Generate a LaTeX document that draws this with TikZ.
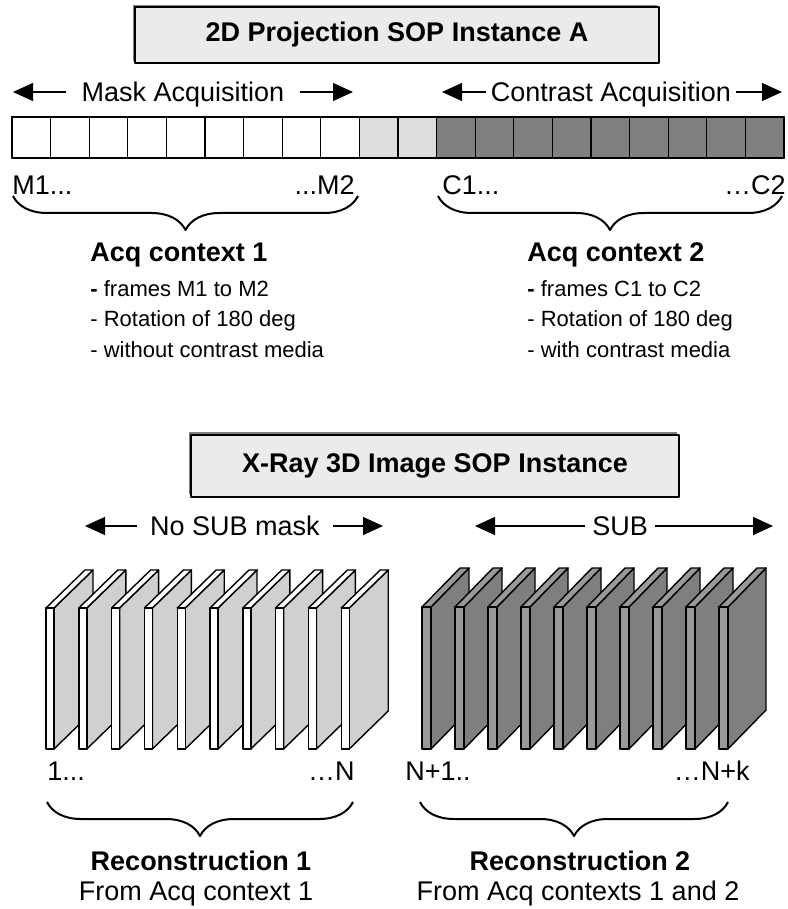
\documentclass[tikz,border=0pt]{standalone}
\usepackage{fontspec}
\setmainfont{Liberation Sans}
\usetikzlibrary{arrows.meta,decorations.pathreplacing,shadows,positioning}
\definecolor{boxgray}{HTML}{EBEBEB}
\definecolor{cellgray}{HTML}{DDDDDD}
\definecolor{celldark}{HTML}{808080}
\definecolor{slabside}{HTML}{D0D0D0}
\definecolor{subfront}{HTML}{999999}
\definecolor{subside}{HTML}{7F7F7F}
\tikzset{
  titlebox/.style={draw,line width=1pt,fill=boxgray,inner sep=0pt,
    font=\fontsize{13.5}{16}\selectfont\bfseries,
    drop shadow={shadow xshift=-1.1pt,shadow yshift=1.1pt,fill=gray,opacity=1}},
  rangelbl/.style={inner ysep=0pt,text height=9.7pt,text depth=0pt},
  rangearrow/.style={->,line width=0.6pt},
  cell/.style={draw,line width=0.6pt},
  slab/.style={draw,line width=0.7pt},
  brc/.style={decorate,decoration={brace,mirror,amplitude=17pt},line width=1pt},
  heading/.style={font=\fontsize{13.5}{16}\selectfont\bfseries,inner sep=0pt},
  bullet/.style={font=\fontsize{11}{13}\selectfont,inner sep=0pt,anchor=base west}
}
\begin{document}
\begin{tikzpicture}[x=0.5pt,y=-0.5pt,>={Triangle[length=10pt,width=9pt]},line join=round,font=\fontsize{13.5}{16}\selectfont]
\useasboundingbox (0,0) rectangle (787,909);
% 2D projection instance
\node[titlebox,minimum width=262pt,minimum height=28pt] (projtitle) at (397,35) {2D Projection SOP Instance A};
\node[rangelbl,inner xsep=7.5pt] (maskacq) at (183,92) {Mask Acquisition};
\coordinate (maskL) at (13,92);
\coordinate (maskR) at (353,92);
\draw[rangearrow] (maskacq.west) -- (maskL);
\draw[rangearrow] (maskacq.east) -- (maskR);
\node[rangelbl,inner xsep=2.5pt] (contacq) at (611,92) {Contrast Acquisition};
\coordinate (contL) at (442,92);
\coordinate (contR) at (782,92);
\draw[rangearrow] (contacq.west) -- (contL);
\draw[rangearrow] (contacq.east) -- (contR);
% frame strip
\foreach \i in {0,...,8}
  \draw[cell,fill=white] ({12+38.6*\i},117) rectangle +(38.6,41);
\foreach \i in {9,10}
  \draw[cell,fill=cellgray] ({12+38.6*\i},117) rectangle +(38.6,41);
\foreach \i in {11,...,19}
  \draw[cell,fill=celldark] ({12+38.6*\i},117) rectangle +(38.6,41);
\draw[line width=0.8pt] (12,117) rectangle (784,158);
\node[anchor=base west,inner sep=0pt] (m1) at (12,195) {M1...};
\node[anchor=base east,inner sep=0pt] (m2) at (355,195) {...M2};
\node[anchor=base west,inner sep=0pt] (c1) at (442,195) {C1...};
\node[anchor=base east,inner sep=0pt] (c2) at (786,195) {…C2};
\draw[brc] (13,196) -- (358,196);
\draw[brc] (438,196) -- (782,196);
% acquisition contexts
\node[heading,anchor=base west] (ctxa) at (90,262) {Acq context 1};
\foreach \t [count=\k] in {\textbf{-} frames M1 to M2,- Rotation of 180 deg,- without contrast media}
  \node[bullet] (ctxa-\k) at (90,265.5+30.5*\k) {\t};
\node[heading,anchor=base west] (ctxb) at (527,262) {Acq context 2};
\foreach \t [count=\k] in {\textbf{-} frames C1 to C2,- Rotation of 180 deg,- with contrast media}
  \node[bullet] (ctxb-\k) at (527,265.5+30.5*\k) {\t};
% 3D image instance
\node[titlebox,minimum width=244pt,minimum height=31pt] (imgtitle) at (435,465.5) {X-Ray 3D Image SOP Instance};
\node[rangelbl,inner xsep=6.5pt] (nosub) at (235,526) {No SUB mask};
\coordinate (nosubL) at (85,526);
\coordinate (nosubR) at (383,526);
\draw[rangearrow] (nosub.west) -- (nosubL);
\draw[rangearrow] (nosub.east) -- (nosubR);
\node[rangelbl,inner xsep=3.5pt] (sub) at (620,526) {SUB};
\coordinate (subL) at (475,526);
\coordinate (subR) at (773,526);
\draw[rangearrow] (sub.west) -- (subL);
\draw[rangearrow] (sub.east) -- (subR);
% reconstructed slices
\foreach \i in {0,...,9}{
  \pgfmathsetmacro\sx{46+32.8*\i}
  \draw[slab,fill=slabside] (\sx+8,608) -- ++(39,-38) -- ++(0,141) -- (\sx+8,749) -- cycle;
  \draw[slab,fill=white] (\sx,608) -- ++(39,-38) -- ++(8,0) -- (\sx+8,608) -- cycle;
  \draw[slab,fill=white] (\sx,608) rectangle ++(8,141);
}
\foreach \i in {0,...,9}{
  \pgfmathsetmacro\sx{422+33*\i}
  \draw[slab,fill=subside] (\sx+9,607) -- ++(38,-39) -- ++(0,142) -- (\sx+9,749) -- cycle;
  \draw[slab,fill=subfront] (\sx,607) -- ++(38,-39) -- ++(9,0) -- (\sx+9,607) -- cycle;
  \draw[slab,fill=subfront] (\sx,607) rectangle ++(9,142);
}
\node[anchor=base west,inner sep=0pt] (n1) at (47,780) {1...};
\node[anchor=base east,inner sep=0pt] (n2) at (355,780) {…N};
\node[anchor=base west,inner sep=0pt] (k1) at (405,780) {N+1..};
\node[anchor=base east,inner sep=0pt] (k2) at (750,780) {…N+k};
\draw[brc] (47,802) -- (353,802);
\draw[brc] (420,802) -- (728,802);
\node[heading,anchor=base] (reca) at (201,870) {Reconstruction 1};
\node[anchor=base,inner sep=0pt] (recafrom) at (196,900) {From Acq context 1};
\node[heading,anchor=base] (recb) at (580,870) {Reconstruction 2};
\node[anchor=base,inner sep=0pt] (recbfrom) at (578,900) {From Acq contexts 1 and 2};
\end{tikzpicture}
\end{document}
